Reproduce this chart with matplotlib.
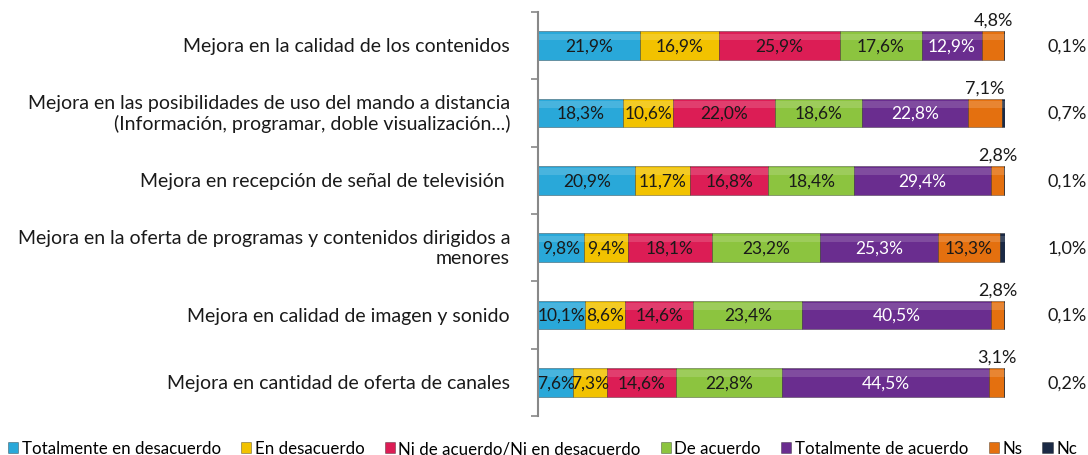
import matplotlib
matplotlib.use('Agg')
import matplotlib.pyplot as plt
import numpy as np

plt.rcParams['font.family'] = ['Lato', 'DejaVu Sans']

CATEGORIES = [
    'Mejora en la calidad de los contenidos',
    'Mejora en las posibilidades de uso del mando a distancia\n(Información, programar, doble visualización...)',
    'Mejora en recepción de señal de televisión ',
    'Mejora en la oferta de programas y contenidos dirigidos a\nmenores',
    'Mejora en calidad de imagen y sonido',
    'Mejora en cantidad de oferta de canales',
]
SERIES = ['Totalmente en desacuerdo', 'En desacuerdo', 'Ni de acuerdo/Ni en desacuerdo',
          'De acuerdo', 'Totalmente de acuerdo', 'Ns', 'Nc']
TOT_DESACUERDO = [21.9, 18.3, 20.9, 9.8, 10.1, 7.6]
EN_DESACUERDO = [16.9, 10.6, 11.7, 9.4, 8.6, 7.3]
NI_NI = [25.9, 22.0, 16.8, 18.1, 14.6, 14.6]
DE_ACUERDO = [17.6, 18.6, 18.4, 23.2, 23.4, 22.8]
TOT_ACUERDO = [12.9, 22.8, 29.4, 25.3, 40.5, 44.5]
NS = [4.8, 7.1, 2.8, 13.3, 2.8, 3.1]
NC = [0.1, 0.7, 0.1, 1.0, 0.1, 0.2]

COLORS = ['#29a8d9', '#f2c200', '#dc1d55', '#8cc43f', '#6a2d8f', '#e4700f', '#1b2a45']
TEXT_COLORS = ['#1a1a1a', '#1a1a1a', '#1a1a1a', '#1a1a1a', 'white', '#1a1a1a', '#1a1a1a']

values = np.array([TOT_DESACUERDO, EN_DESACUERDO, NI_NI, DE_ACUERDO, TOT_ACUERDO, NS, NC])
n = len(CATEGORIES)
y = np.arange(n)

fig = plt.figure(figsize=(10.88, 4.56), dpi=100)
ax = fig.add_axes([0.4945, 0.0855, 0.429, 0.886])

left = np.zeros(n)
for i, (name, color) in enumerate(zip(SERIES, COLORS)):
    vals = values[i]
    ax.barh(y, vals, left=left, height=0.43, color=color, edgecolor='#00000050',
            linewidth=0.7, label=name)
    # lighter top band to hint at the bevelled look of the original
    ax.barh(y - 0.13, vals, left=left, height=0.1, color='white', alpha=0.15, linewidth=0)
    for j in range(n):
        cx = left[j] + vals[j] / 2
        lbl = f'{vals[j]:.1f}%'.replace('.', ',')
        if name == 'Nc':
            ax.text(109.3, y[j], lbl, ha='left', va='center', fontsize=13, color='#1a1a1a')
        elif name == 'Ns' and vals[j] < 10:
            ax.text(cx, y[j] - 0.38, lbl, ha='center', va='center', fontsize=13, color='#1a1a1a')
        else:
            ax.text(cx, y[j], lbl, ha='center', va='center', fontsize=12.5, color=TEXT_COLORS[i])
    left += vals

ax.set_xlim(0, 100.1)
ax.set_ylim(n - 0.5, -0.5)
ax.set_xticks([])
ax.set_yticks(np.arange(n + 1) - 0.5)
ax.set_yticklabels([])
ax.tick_params(axis='y', length=5, color='#888888', width=1.2)
for s in ['top', 'right', 'bottom']:
    ax.spines[s].set_visible(False)
ax.spines['left'].set_color('#888888')
ax.spines['left'].set_linewidth(1.5)

for j, cat in enumerate(CATEGORIES):
    ax.text(-6, y[j], cat, ha='right', va='center', multialignment='right',
            fontsize=14, color='#1a1a1a', linespacing=1.2)

handles, labels = ax.get_legend_handles_labels()
fig.legend(handles[:7], labels[:7], loc='lower left', bbox_to_anchor=(-0.002, -0.025), ncol=7,
           frameon=False, fontsize=12.2, handlelength=0.6, handleheight=0.6, handletextpad=0.2,
           columnspacing=1.2, borderaxespad=0.2)

fig.savefig('out.png', dpi=100)
